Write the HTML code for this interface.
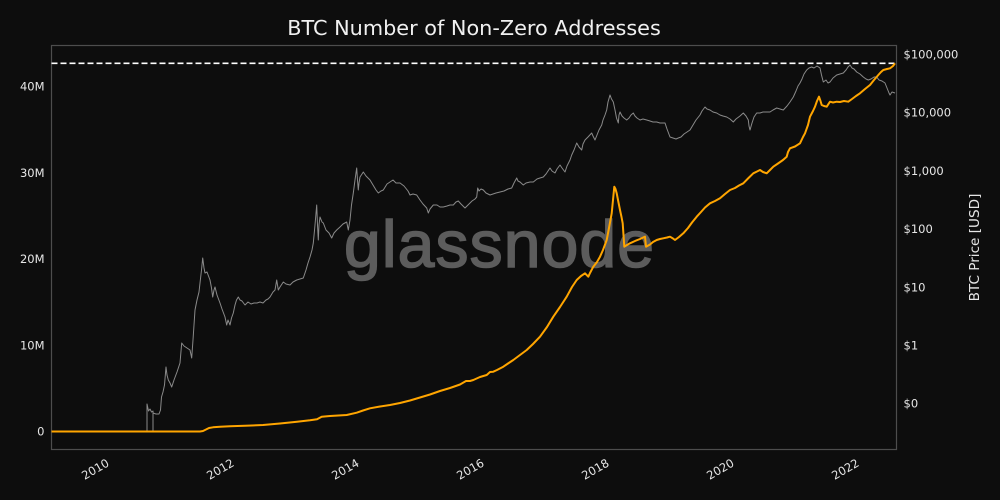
<!DOCTYPE html>
<html>
<head>
<meta charset="utf-8">
<style>
html,body{margin:0;padding:0;background:#0d0d0d;}
svg{display:block;}
text{font-family:"DejaVu Sans","Liberation Sans",sans-serif;}
</style>
</head>
<body>
<svg width="1000" height="500" viewBox="0 0 1000 500" xmlns="http://www.w3.org/2000/svg">
<rect x="0" y="0" width="1000" height="500" fill="#0d0d0d"/>
<!-- title -->
<text x="474" y="35" font-size="20.8" fill="#f0f0f0" text-anchor="middle">BTC Number of Non-Zero Addresses</text>

<!-- watermark -->
<text x="499" y="267" font-size="66" fill="#5c5c5c" stroke="#5c5c5c" stroke-width="1.6" text-anchor="middle" textLength="310" lengthAdjust="spacing" style='font-family:"Liberation Sans",sans-serif;'>glassnode</text>

<!-- frame -->
<rect x="51.5" y="45.5" width="845" height="404" fill="none" stroke="#4d4d4d" stroke-width="1.2"/>

<!-- price (grey) -->
<polyline fill="none" stroke="#8a8a8a" stroke-width="1" stroke-linejoin="round" points="147,431 147,404 148.5,411 150,409 151.5,412 153,411 153,431 153,413 156,414 159,414 160.5,410 161.5,397 163,392 164.5,385 166,367 167,375 168.3,380 170,383 171.7,387 174,380 177,372 180,363 181.7,343 184,346 187,348 190,350 191.7,358 193,340 195,310 197,300 199,292 200,283 201.5,270 202.7,258 204,268 205,273 207,272 210,280 211.5,288 212.7,297 214,290 215,287 217,295 220,303 222,309 225,317 226.7,325 228,320 230,325 231.5,318 233.3,313 235,305 236.5,300 238.3,297 240,300 242,301 245,305 248,302 251,304 254,303 257,303 260,302 263,303 266,300 268,299 270,297 273,292 275,290 276.7,280 278.3,290 280,287 283.3,282 286,284 290,285 293,282 296.7,280 300,279 303.3,278 306,270 308,263 310,257 312,250 313.3,243 315,225 316.7,205 317.5,225 318.3,240 319,225 320,217 322,222 323.3,223 326,230 329,233 331.7,238 334,233 336.7,230 340,227 343,224 346.7,222 348.3,230 350,220 351.5,205 353.3,193 355,180 356.7,168 357.5,180 358.3,190 359,183 360,177 362,174 363.3,172 366,176 370,180 373,185 376,190 378.3,193 381,191 383.3,190 387,184 390,182 393,180 396,183 400,183 404,186 408,191 410,195 413,194 416.7,195 420,200 423,204 426.7,208 428.3,213 430,209 433.3,205 437,205 440,207 443.3,207 447,206 450,205 453.3,205 456,202 458.3,201 461,204 465,208 468,205 472,201 475,199 476.7,197 477.7,188 479,191 481,189 483.3,190 486,193 490,195 493,194 496,193 500,192 504,191 508,189 511.7,188 514,183 516.7,178 518,181 520,182 523.3,185 526,183 530,182 533.3,182 537,179 540,178 543.3,177 546,174 548,171 550,168 552,171 555,173 557,169 560,165 562,168 565,172 567,166 570,160 571.7,155 574,150 576.7,143 579,147 581.7,150 583,144 585,140 588,137 591.7,133 593,136 595,140 597,135 599,130 601.7,125 603,120 605,115 606.7,110 608,102 610,95 611.5,99 613.3,102 615,110 616.5,118 618.3,123 619,115 620,112 622,116 624,118 626.7,120 629,118 631,115 633.3,113 635,116 637,118 640,120 643,119 646.7,120 650,121 653,122 656.7,122 660,123 663,123 665,123 667,129 670,137 673,138 676,139 678.3,138 681,137 684,134 687,132 690,130 693,125 696,120 700,115 702,111 705,107 707,109 710,110 713,112 716.7,113 720,115 723,116 726.7,117 730,119 733.3,122 736,119 740,116 743.3,113 746,116 748.3,120 749,126 750,130 752,123 754,117 756.7,113 760,113 763,112 766,112 770,112 773,110 776.7,108 780,109 783.3,110 787,106 790,102 793.3,97 796,91 798,86 800,83 802,79 804,74 806.7,70 809,68 811.7,67 814,68 817,66 820,68 821.5,75 823.3,82 826,80 828,83 830,82 833,78 836.7,75 840,74 843.3,73 846,70 848,67 850,65 852,68 854,69 856.7,72 860,74 863.3,77 866,79 868.3,80 871,79 874,77 876.7,77 879,80 882,81 885,83 887,88 889,93 890,95 892,92 895,93"/>

<!-- dashed ATH line -->
<line x1="51.5" y1="63.3" x2="896" y2="63.3" stroke="#ffffff" stroke-width="1.6" stroke-dasharray="6 3"/>

<!-- addresses (orange) -->
<polyline fill="none" stroke="#ffa500" stroke-width="2" stroke-linejoin="round" points="51.5,431.5 200,431.5 203,431 206,429.5 209,428 213,427.3 220,426.8 230,426.2 245,425.8 263,425 280,423.5 297,421.7 310,420.3 317,419.3 321.7,416.7 330,416 346.7,415 356.7,412.7 363,410.5 370,408.3 380,406.5 390,405 400,403 410,400.5 420,397.5 430,394.5 440,391 450,388 460,384.5 466,381 470,381 473.3,380 480,377 486.7,375 490,372 493.3,371.7 497,370 503.3,366.7 508,363.5 513.3,360 520,355 526.7,350 533,344 540,336.7 547,327 553.3,316.7 560,307 566.7,296.7 572,287 576.7,280 581,276 585,273.3 588.3,276.7 590,273 593.3,266.7 597,262 600,256.7 603,250 606.7,240 609,228 611.7,213.3 613,200 614.3,186.7 615.5,189 616.7,193.3 618,200 620,210 621.5,217 622.7,223.3 623.5,235 624.3,246.7 627,245 630,243.3 635,241 640,239 645,236.7 646,246.7 650,244.5 653,242 656.7,240 660,239 663.3,238.3 667,237.5 670,236.7 673,238.5 675,240 679,237 683.3,233.3 688,228 692,222.5 696.7,216.7 701,212 705,207.5 710,203.3 715,201 720,198.3 725,194 730,190 735,188 739,185.5 743.3,183.3 748,178.5 753.3,173.3 757,171.5 760,170 763,172 766.7,173.3 770,170 773.3,166.7 778,163.5 783,160 786.7,156.7 788,152 790,148.3 795,146.5 800,143.3 803,137 805,133.3 808,125 810,116.7 813,111 815,106.7 817,101 819,96.7 820.5,101 821.7,105 824,106 826.7,106.7 830,101.7 833,102.5 836.7,101.7 840,102 844,101 848.3,101.7 852,99 856,96 860,93.3 865,89 870,85 874,80 878.3,75 881,72 883.3,70 887,69 890,68.3 893,66 895,63.3"/>

<!-- left y ticks -->
<g font-size="11.5" fill="#e6e6e6" text-anchor="end">
<text x="44.5" y="435.7">0</text>
<text x="44.5" y="349.4">10M</text>
<text x="44.5" y="263.2">20M</text>
<text x="44.5" y="176.9">30M</text>
<text x="44.5" y="90.6">40M</text>
</g>

<!-- right y ticks -->
<g font-size="11.5" fill="#e6e6e6" text-anchor="start">
<text x="903.5" y="58.5">$100,000</text>
<text x="903.5" y="116.7">$10,000</text>
<text x="903.5" y="174.9">$1,000</text>
<text x="903.5" y="233.1">$100</text>
<text x="903.5" y="291.3">$10</text>
<text x="903.5" y="349.5">$1</text>
<text x="903.5" y="407.7">$0</text>
</g>

<!-- right axis label -->
<text x="0" y="0" font-size="13.6" fill="#e6e6e6" text-anchor="middle" transform="translate(979,247.5) rotate(-90)">BTC Price [USD]</text>

<!-- x ticks -->
<g font-size="11.5" fill="#e6e6e6" text-anchor="end">
<text transform="translate(110,465.3) rotate(-30)">2010</text>
<text transform="translate(235,465.3) rotate(-30)">2012</text>
<text transform="translate(360,465.3) rotate(-30)">2014</text>
<text transform="translate(485,465.3) rotate(-30)">2016</text>
<text transform="translate(610,465.3) rotate(-30)">2018</text>
<text transform="translate(735,465.3) rotate(-30)">2020</text>
<text transform="translate(860,465.3) rotate(-30)">2022</text>
</g>
</svg>
</body>
</html>
